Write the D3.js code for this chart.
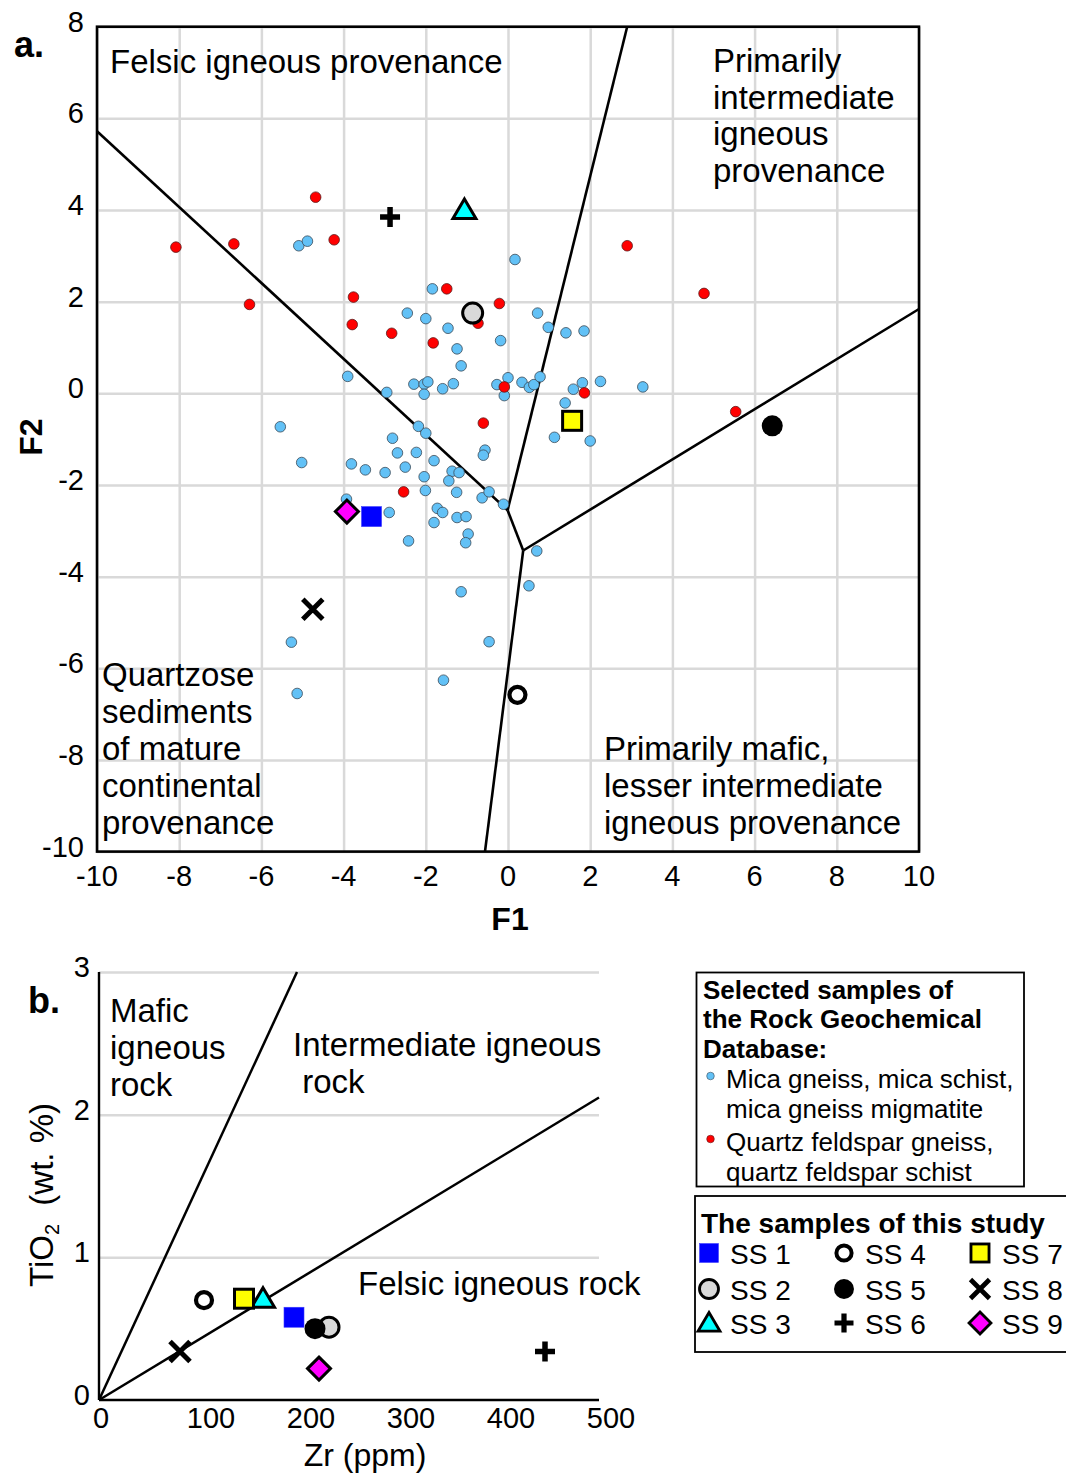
<!DOCTYPE html>
<html>
<head>
<meta charset="utf-8">
<script src="https://cdn.jsdelivr.net/npm/d3@7"></script>
<style>
  html, body { margin: 0; padding: 0; background: #fff; }
  svg { display: block; font-family: "Liberation Sans", Arial, sans-serif; }
</style>
</head>
<body>
<svg id="chart" width="1066" height="1473"></svg>
<script>
// ---------------- DATA ----------------
// Panel a: discriminant function scores (F1, F2)
const micaF1 = [-5.09,-4.88,0.17,-1.84,-2.45,-2.00,-1.46,0.72,0.98,1.41,1.85,-0.18,-1.24,-1.14,-3.90,-2.95,-2.29,-2.04,-1.95,-2.04,-1.59,-1.33,-0.27,0.00,-0.09,0.34,0.52,0.63,0.78,1.81,1.59,2.25,3.28,1.39,1.13,2.00,-5.54,-5.02,-3.81,-3.47,-2.99,-2.81,-2.69,-2.23,-2.18,-2.00,-1.80,-2.50,-2.04,-2.01,-3.93,-2.89,-2.42,-1.72,-1.59,-1.80,-0.56,-0.60,-1.36,-1.19,-1.44,-1.25,-0.63,-0.46,-0.11,-1.24,-1.02,-0.97,-1.03,0.70,0.51,-1.14,-5.27,-0.46,-5.13,-1.57];
const micaF2 = [3.22,3.32,2.92,2.28,1.75,1.63,1.42,1.75,1.44,1.32,1.36,1.15,0.97,0.60,0.37,0.02,0.20,0.20,0.25,-0.02,0.10,0.21,0.19,0.34,-0.05,0.24,0.13,0.19,0.36,0.23,0.09,0.26,0.14,-0.21,-0.96,-1.04,-0.73,-1.51,-1.54,-1.67,-1.73,-0.98,-1.30,-1.29,-0.72,-0.87,-1.47,-1.61,-1.82,-2.12,-2.31,-2.60,-3.22,-2.51,-2.60,-2.82,-1.24,-1.35,-1.70,-1.73,-1.91,-2.16,-2.28,-2.15,-2.42,-2.71,-2.69,-3.07,-3.26,-3.44,-4.20,-4.33,-5.43,-5.42,-6.55,-6.26];
const qfF1 = [-8.08,-6.67,-6.29,-4.68,-4.23,-3.76,-3.79,-2.83,-1.82,-1.49,-0.73,-0.21,-0.09,-0.60,1.86,2.90,4.77,5.54,-2.54];
const qfF2 = [3.19,3.26,1.94,4.28,3.35,2.10,1.50,1.31,1.10,2.28,1.53,1.96,0.14,-0.65,0.01,3.22,2.18,-0.40,-2.15];

const sampleNames = ["SS 1","SS 2","SS 3","SS 4","SS 5","SS 6","SS 7","SS 8","SS 9"];
const sampleF1 = [-3.32,-0.86,-1.06,0.23,6.43,-2.87,1.56,-4.75,-3.92];
const sampleF2 = [-2.69,1.75,4.00,-6.58,-0.71,3.85,-0.60,-4.71,-2.58];

// Panel b: Zr (ppm) and TiO2 (wt.%)
const sampleZr   = [195,230,164,105,216,446,145,81,220];
const sampleTiO2 = [0.58,0.51,0.71,0.70,0.50,0.34,0.71,0.34,0.22];

// Boundaries (data coordinates)
const boundaryA = [
  [[-10,5.72],[-0.01,-2.55]],
  [[-0.01,-2.55],[2.9,8]],
  [[-0.01,-2.55],[0.37,-3.43]],
  [[0.37,-3.43],[10,1.84]],
  [[0.37,-3.43],[-0.56,-10]]
];
const boundaryB = [
  [[0,0],[198,3]],
  [[0,0],[500,2.12]]
];

// Tick labels
const ticksF1 = [-10,-8,-6,-4,-2,0,2,4,6,8,10];
const ticksF2 = [-10,-8,-6,-4,-2,0,2,4,6,8];
const ticksZr = [0,100,200,300,400,500];
const ticksTi = [0,1,2,3];

// ---------------- DRAW ----------------
const svg = d3.select("#chart");
svg.append("rect").attr("width",1066).attr("height",1473).attr("fill","#fff");

const xa = d3.scaleLinear().domain([-10,10]).range([97,919]);
const ya = d3.scaleLinear().domain([-10,8]).range([851.6,26.7]);
const xb = d3.scaleLinear().domain([0,500]).range([99,599]);
const yb = d3.scaleLinear().domain([0,3]).range([1400,972]);

const GRID = "#d9d9d9";

// ---- Panel a ----
const ga = svg.append("g");
ga.append("g").attr("transform",`translate(0,${ya(-10)})`)
  .call(d3.axisBottom(xa).tickValues(ticksF1).tickSize(-(ya(-10)-ya(8))).tickFormat(""))
  .call(g=>{g.select(".domain").remove(); g.selectAll("line").attr("stroke",GRID).attr("stroke-width",2.5);});
ga.append("g").attr("transform",`translate(${xa(-10)},0)`)
  .call(d3.axisLeft(ya).tickValues(ticksF2).tickSize(-(xa(10)-xa(-10))).tickFormat(""))
  .call(g=>{g.select(".domain").remove(); g.selectAll("line").attr("stroke",GRID).attr("stroke-width",2.5);});

ga.append("g").selectAll("text").data(ticksF1).join("text")
  .attr("x",d=>xa(d)).attr("y",886).attr("text-anchor","middle")
  .attr("font-size",29).text(d=>String(d));
ga.append("g").selectAll("text").data(ticksF2).join("text")
  .attr("x",84).attr("y",d=>ya(d)+5).attr("text-anchor","end")
  .attr("font-size",29).text(d=>String(d));

const lineA = d3.line().x(d=>xa(d[0])).y(d=>ya(d[1]));
ga.append("g").selectAll("path").data(boundaryA).join("path")
  .attr("d",lineA).attr("stroke","#000").attr("stroke-width",2.6).attr("fill","none");

ga.append("g").selectAll("circle").data(micaF1.map((v,i)=>[v,micaF2[i]])).join("circle")
  .attr("cx",d=>xa(d[0])).attr("cy",d=>ya(d[1])).attr("r",5.3)
  .attr("fill","#62c1f6").attr("stroke","#3a4a58").attr("stroke-width",0.8);
ga.append("g").selectAll("circle").data(qfF1.map((v,i)=>[v,qfF2[i]])).join("circle")
  .attr("cx",d=>xa(d[0])).attr("cy",d=>ya(d[1])).attr("r",5.3)
  .attr("fill","#ff0000").attr("stroke","#5a1a1a").attr("stroke-width",0.8);

function marker(g, idx, cx, cy, s) {
  const m = g.append("g").attr("transform",`translate(${cx},${cy}) scale(${s||1})`);
  switch(idx) {
    case 0: m.append("rect").attr("x",-10).attr("y",-10).attr("width",20).attr("height",20)
              .attr("fill","#0000ff").attr("stroke","#3b3bff").attr("stroke-width",0.6); break;
    case 1: m.append("circle").attr("r",10).attr("fill","#d9d9d9").attr("stroke","#000").attr("stroke-width",3); break;
    case 2: m.append("path").attr("d","M0,-11 L11.5,8.5 L-11.5,8.5 Z").attr("fill","#00ffff")
              .attr("stroke","#000").attr("stroke-width",3).attr("stroke-linejoin","miter"); break;
    case 3: m.append("circle").attr("r",8).attr("fill","#fff").attr("stroke","#000").attr("stroke-width",4.2); break;
    case 4: m.append("circle").attr("r",10.5).attr("fill","#000"); break;
    case 5: m.append("path").attr("d","M-10,0 L10,0 M0,-10 L0,10").attr("stroke","#000").attr("stroke-width",5.5); break;
    case 6: m.append("rect").attr("x",-9.5).attr("y",-9.5).attr("width",19).attr("height",19)
              .attr("fill","#ffff00").attr("stroke","#000").attr("stroke-width",3); break;
    case 7: m.append("path").attr("d","M-10,-10 L10,10 M10,-10 L-10,10").attr("stroke","#000").attr("stroke-width",5); break;
    case 8: m.append("path").attr("d","M0,-11.5 L11.5,0 L0,11.5 L-11.5,0 Z").attr("fill","#ff00ff")
              .attr("stroke","#000").attr("stroke-width",3); break;
  }
}
const gsa = ga.append("g");
sampleNames.forEach((n,i)=>marker(gsa,i,xa(sampleF1[i]),ya(sampleF2[i])));

ga.append("rect").attr("x",xa(-10)).attr("y",ya(8)).attr("width",xa(10)-xa(-10)).attr("height",ya(-10)-ya(8))
  .attr("fill","none").attr("stroke","#000").attr("stroke-width",2.6);

function multiText(g, x, y0, dy, lines, size) {
  lines.forEach((t,i)=>g.append("text").attr("x",x).attr("y",y0+i*dy).attr("font-size",size)
    .attr("xml:space","preserve").text(t));
}
multiText(ga,110,73,37,["Felsic igneous provenance"],33);
multiText(ga,713,72,36.7,["Primarily","intermediate","igneous","provenance"],33);
multiText(ga,102,686,37,["Quartzose","sediments","of mature","continental","provenance"],33);
multiText(ga,604,760,37.2,["Primarily mafic,","lesser intermediate","igneous provenance"],33);

svg.append("text").attr("x",14).attr("y",57).attr("font-size",36).attr("font-weight","bold").text("a.");
svg.append("text").attr("x",510).attr("y",930).attr("text-anchor","middle").attr("font-size",32).attr("font-weight","bold").text("F1");
svg.append("text").attr("transform","translate(42,437) rotate(-90)").attr("text-anchor","middle")
  .attr("font-size",32).attr("font-weight","bold").text("F2");

// ---- Panel b ----
const gb = svg.append("g");
gb.append("g").attr("transform",`translate(${xb(0)},0)`)
  .call(d3.axisLeft(yb).tickValues([1,2,3]).tickSize(-(xb(500)-xb(0))).tickFormat(""))
  .call(g=>{g.select(".domain").remove(); g.selectAll("line").attr("stroke",GRID).attr("stroke-width",2.5);});
gb.append("line").attr("x1",xb(0)).attr("x2",xb(0)).attr("y1",yb(3)).attr("y2",yb(0)).attr("stroke","#000").attr("stroke-width",2.4);
gb.append("line").attr("x1",xb(0)).attr("x2",xb(500)).attr("y1",yb(0)).attr("y2",yb(0)).attr("stroke","#000").attr("stroke-width",2.6);

gb.append("g").selectAll("text").data(ticksZr).join("text")
  .attr("x",d=>xb(d)+(d===0?2:12)).attr("y",1428).attr("text-anchor","middle")
  .attr("font-size",29).text(d=>String(d));
gb.append("g").selectAll("text").data(ticksTi).join("text")
  .attr("x",90).attr("y",d=>yb(d)+5).attr("text-anchor","end")
  .attr("font-size",29).text(d=>String(d));

const lineB = d3.line().x(d=>xb(d[0])).y(d=>yb(d[1]));
gb.append("g").selectAll("path").data(boundaryB).join("path")
  .attr("d",lineB).attr("stroke","#000").attr("stroke-width",2.5).attr("fill","none");

const gsb = gb.append("g");
sampleNames.forEach((n,i)=>marker(gsb,i,xb(sampleZr[i]),yb(sampleTiO2[i])));

multiText(gb,110,1022,37,["Mafic","igneous","rock"],33);
multiText(gb,293,1056,37,["Intermediate igneous"," rock"],33);
multiText(gb,358,1295,37,["Felsic igneous rock"],33);

svg.append("text").attr("x",28).attr("y",1013).attr("font-size",36).attr("font-weight","bold").text("b.");
svg.append("text").attr("x",365).attr("y",1466).attr("text-anchor","middle").attr("font-size",32).text("Zr (ppm)");
const yt = svg.append("text").attr("transform","translate(53,1195) rotate(-90)").attr("text-anchor","middle").attr("font-size",33);
yt.append("tspan").text("TiO");
yt.append("tspan").attr("font-size",20).attr("dy",6).text("2");
yt.append("tspan").attr("dy",-6).attr("xml:space","preserve").text("  (wt. %)");

// ---- Legends ----
const lg1 = svg.append("g");
lg1.append("rect").attr("x",696.5).attr("y",972.5).attr("width",327.5).attr("height",214)
  .attr("fill","#fff").attr("stroke","#000").attr("stroke-width",1.8);
multiText(lg1,703,999,29.3,["Selected samples of","the Rock Geochemical","Database:"],26);
lg1.selectAll("text").attr("font-weight","bold");
lg1.append("circle").attr("cx",710.5).attr("cy",1076).attr("r",3.8).attr("fill","#62c1f6").attr("stroke","#3a4a58").attr("stroke-width",0.6);
lg1.append("circle").attr("cx",710.5).attr("cy",1139).attr("r",3.8).attr("fill","#ff0000").attr("stroke","#5a1a1a").attr("stroke-width",0.6);
const lg1t = lg1.append("g");
multiText(lg1t,726,1088,29.5,["Mica gneiss, mica schist,","mica gneiss migmatite"],26);
multiText(lg1t,726,1151,29.5,["Quartz feldspar gneiss,","quartz feldspar schist"],26);

const lg2 = svg.append("g");
lg2.append("rect").attr("x",695).attr("y",1196).attr("width",372).attr("height",156)
  .attr("fill","#fff").attr("stroke","#000").attr("stroke-width",1.8);
lg2.append("text").attr("x",701).attr("y",1233).attr("font-size",28).attr("font-weight","bold").text("The samples of this study");
const colSym = [709, 844, 980];
const colTxt = [730, 865, 1002];
const rowY = [1253, 1289, 1323];
sampleNames.forEach((n,i)=>{
  const c = Math.floor(i/3), r = i%3;
  marker(lg2,i,colSym[c],rowY[r],0.95);
  lg2.append("text").attr("x",colTxt[c]).attr("y",rowY[r]+11).attr("font-size",28).text(n);
});
</script>
</body>
</html>
